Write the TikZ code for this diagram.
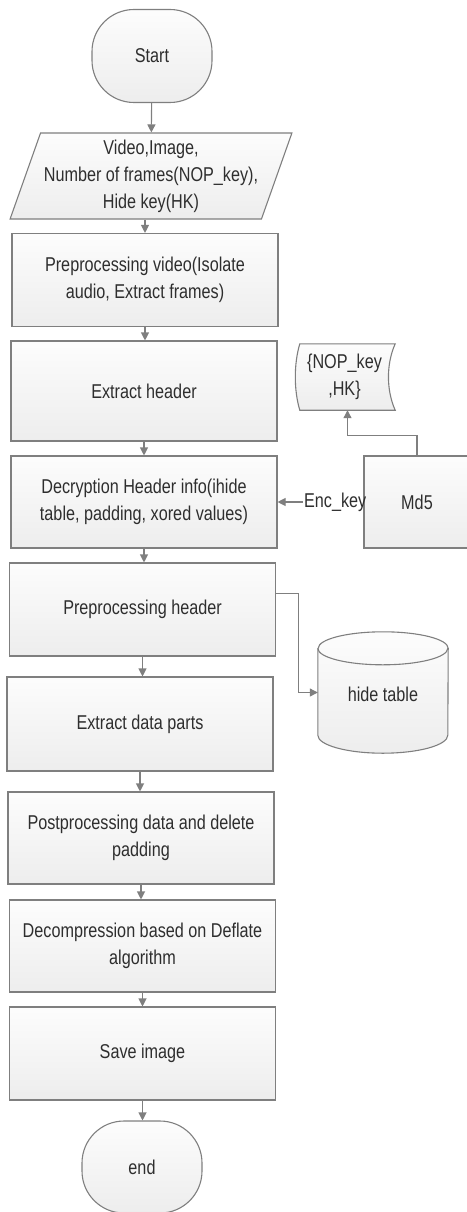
\documentclass[tikz,border=0pt]{standalone}
\usepackage{fontspec}
\setmainfont{Liberation Sans}[FakeStretch=0.81]
\usetikzlibrary{arrows.meta,shapes.geometric,positioning}
\definecolor{edgegray}{HTML}{7F7F7F}
\definecolor{textgray}{HTML}{2E2E2E}

\tikzset{
  boxfill/.style={draw=edgegray, line width=1.1pt, top color=gray!2, bottom color=gray!14},
  stepbox/.style={boxfill, text=textgray, align=center, font=\fontsize{20}{27}\selectfont},
  procbox/.style={stepbox, rectangle, minimum width=266pt, minimum height=93pt},
  termbox/.style={stepbox, rectangle, rounded corners=42pt, minimum width=120pt, minimum height=93pt},
  keytext/.style={text=textgray, inner sep=1pt, font=\fontsize{20}{27}\selectfont},
  flow/.style={draw=edgegray, line width=1.1pt, -{Triangle[length=8pt,width=8pt]}},
}

\begin{document}
\begin{tikzpicture}[x=1pt,y=-1pt]
  \useasboundingbox (0,0) rectangle (466,1212);

  % main column
  \node[termbox] (start) at (152,56) {Start};
  \node[stepbox, trapezium, trapezium left angle=69, trapezium right angle=111,
        trapezium stretches=true, minimum width=276pt, minimum height=86pt]
        (inp) at (151,176) {Video,Image,\\Number of frames(NOP\_key),\\Hide key(HK)};
  \node[procbox] (vid) at (145,280) {Preprocessing video(Isolate\\audio, Extract frames)};
  \node[procbox, minimum height=100pt] (hdr) at (144,391) {Extract header};
  \node[procbox, minimum height=92pt] (dec) at (144,502) {Decryption Header info(ihide\\table, padding, xored values)};
  \node[procbox] (pre) at (142.5,609.5) {Preprocessing header};
  \node[procbox, minimum height=94pt] (parts) at (140,724) {Extract data parts};
  \node[procbox, minimum height=92pt] (post) at (141,838) {Postprocessing data and delete\\padding};
  \node[procbox, minimum height=92pt] (dcmp) at (142.5,946) {Decompression based on Deflate\\algorithm};
  \node[procbox] (save) at (142.5,1053.5) {Save image};
  \node[termbox, minimum height=92pt] (end) at (142,1167) {end};

  % side branch
  \node[stepbox, rectangle, minimum width=106pt, minimum height=92pt] (md5) at (417,502) {Md5};
  \node[keytext, anchor=east] (enc) at ([xshift=4pt]md5.west) {Enc\_key};
  \node[keytext, align=center, minimum width=95pt, minimum height=66pt] (keys) at (347.5,377) {};
  \path[boxfill] (keys.north west) -- (keys.north east)
    .. controls +(-9,20) and +(-9,-20) .. (keys.south east) -- (keys.south west)
    .. controls +(-6,-20) and +(-6,20) .. cycle;
  \node[keytext, align=center] at ([xshift=-3pt]keys.center) {\{NOP\_key\\,HK\}};

  % database drum
  \node[keytext, minimum width=130pt, minimum height=121pt] (hide) at (383,692.5) {};
  \path[boxfill] ([yshift=-16.5pt]hide.north west) -- ([yshift=18pt]hide.south west)
    arc[start angle=180, end angle=0, x radius=65, y radius=18]
    -- ([yshift=-16.5pt]hide.north east)
    arc[start angle=0, end angle=-180, x radius=65, y radius=16.5];
  \draw[edgegray, line width=1.1pt] ([yshift=-16.5pt]hide.north west)
    arc[start angle=180, end angle=0, x radius=65, y radius=16.5];
  \node[keytext] at ([yshift=-2pt]hide.center) {hide table};

  % connectors
  \draw[flow] (start) -- (inp);
  \draw[flow] (inp.south -| vid.north) -- (vid.north);
  \foreach \a/\b in {vid/hdr, hdr/dec, dec/pre, pre/parts, parts/post, post/dcmp, dcmp/save, save/end}
    \draw[flow] (\a.south) -- (\a.south |- \b.north);
  \draw[flow] (enc.west) -- (dec.east);
  \draw[flow] (md5.north) -- ++(0,-20) -| (keys.south);
  \draw[flow] ([yshift=16pt]pre.east) -- ++(22,0) |- (hide.west);
\end{tikzpicture}
\end{document}
